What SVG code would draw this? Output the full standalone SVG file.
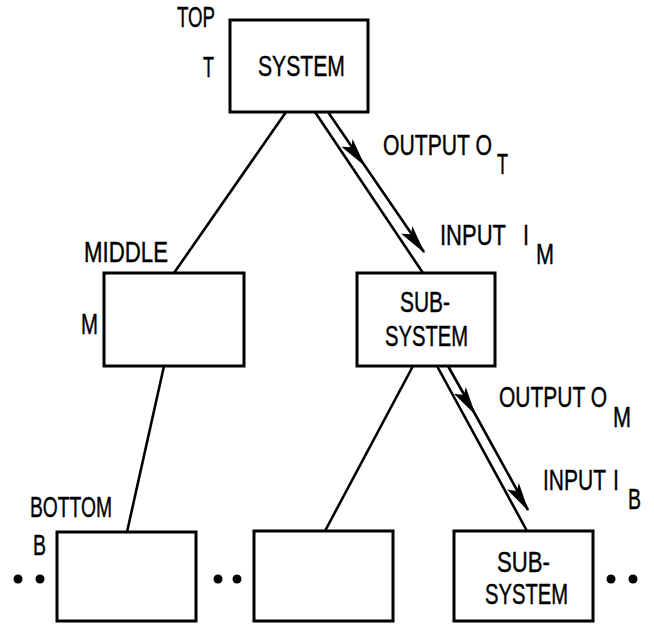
<svg xmlns="http://www.w3.org/2000/svg" width="654" height="626" viewBox="0 0 654 626">
<style>
.box{fill:#fff;stroke:#000;stroke-width:3}
.ln{fill:none;stroke:#000;stroke-width:2.6}
.arr{fill:none;stroke:#000;stroke-width:2.6;marker-mid:url(#ah);marker-end:url(#ah)}
text{font-family:"Liberation Sans",Arial,sans-serif;font-size:29px;fill:#000;stroke:#000;stroke-width:0.4}
.dot{fill:#000}
</style>
<defs>
<marker id="ah" markerUnits="userSpaceOnUse" orient="auto" markerWidth="40" markerHeight="24" viewBox="-32 -12 34 24" refX="0" refY="0">
<path d="M1.5,0 L-28,-5 L-22,0.5 L-28,8.5 Z" fill="#000"/>
</marker>
</defs>
<rect width="654" height="626" fill="#fff"/>
<g id="connectors">
<line class="ln" x1="286" y1="112" x2="174" y2="273"/>
<line class="ln" x1="164" y1="366" x2="127" y2="532"/>
<line class="ln" x1="413" y1="366" x2="325" y2="531"/>
<line class="ln" x1="315" y1="112" x2="423" y2="273"/>
<polyline class="arr" points="328,112 364.3,165 424,252"/>
<line class="ln" x1="437" y1="366" x2="527" y2="531"/>
<polyline class="arr" points="448,366 475,414 528,510"/>
</g>
<g id="top">
<rect class="box" x="230" y="20" width="138" height="92"/>
<text x="258" y="76" textLength="87" lengthAdjust="spacingAndGlyphs">SYSTEM</text>
<text x="177" y="27" textLength="38" lengthAdjust="spacingAndGlyphs">TOP</text>
<text x="203" y="77" textLength="11" lengthAdjust="spacingAndGlyphs">T</text>
</g>
<g id="middle-left">
<rect class="box" x="104" y="273" width="140" height="93"/>
<text x="84" y="262" textLength="84" lengthAdjust="spacingAndGlyphs">MIDDLE</text>
<text x="81" y="334" textLength="17" lengthAdjust="spacingAndGlyphs">M</text>
</g>
<g id="middle-right">
<rect class="box" x="357" y="273" width="138" height="93"/>
<text x="400" y="312" textLength="50" lengthAdjust="spacingAndGlyphs">SUB-</text>
<text x="385" y="346" textLength="83" lengthAdjust="spacingAndGlyphs">SYSTEM</text>
</g>
<g id="bottom-left">
<rect class="box" x="57" y="532" width="139" height="89"/>
<text x="30" y="517" textLength="82" lengthAdjust="spacingAndGlyphs">BOTTOM</text>
<text x="33" y="555" textLength="13" lengthAdjust="spacingAndGlyphs">B</text>
</g>
<g id="bottom-middle">
<rect class="box" x="254" y="531" width="139" height="90"/>
</g>
<g id="bottom-right">
<rect class="box" x="454" y="531" width="139" height="90"/>
<text x="497" y="572" textLength="53" lengthAdjust="spacingAndGlyphs">SUB-</text>
<text x="485" y="604" textLength="83" lengthAdjust="spacingAndGlyphs">SYSTEM</text>
</g>
<g id="labels">
<text x="383" y="155" textLength="109" lengthAdjust="spacingAndGlyphs">OUTPUT O</text>
<text x="497" y="174" textLength="11" lengthAdjust="spacingAndGlyphs">T</text>
<text x="440" y="245" textLength="66" lengthAdjust="spacingAndGlyphs">INPUT</text>
<text x="523" y="245" textLength="6" lengthAdjust="spacingAndGlyphs">I</text>
<text x="536" y="264" textLength="18" lengthAdjust="spacingAndGlyphs">M</text>
<text x="499" y="407" textLength="108" lengthAdjust="spacingAndGlyphs">OUTPUT O</text>
<text x="613" y="427" textLength="18" lengthAdjust="spacingAndGlyphs">M</text>
<text x="543" y="490" textLength="63" lengthAdjust="spacingAndGlyphs">INPUT</text>
<text x="613" y="490" textLength="6" lengthAdjust="spacingAndGlyphs">I</text>
<text x="628" y="509" textLength="13" lengthAdjust="spacingAndGlyphs">B</text>
</g>
<g id="ellipses">
<circle class="dot" cx="18" cy="579" r="4.5"/>
<circle class="dot" cx="40" cy="579" r="4.5"/>
<circle class="dot" cx="218" cy="579" r="4.5"/>
<circle class="dot" cx="237" cy="579" r="4.5"/>
<circle class="dot" cx="611" cy="579" r="4.5"/>
<circle class="dot" cx="633" cy="579" r="4.5"/>
</g>
</svg>
